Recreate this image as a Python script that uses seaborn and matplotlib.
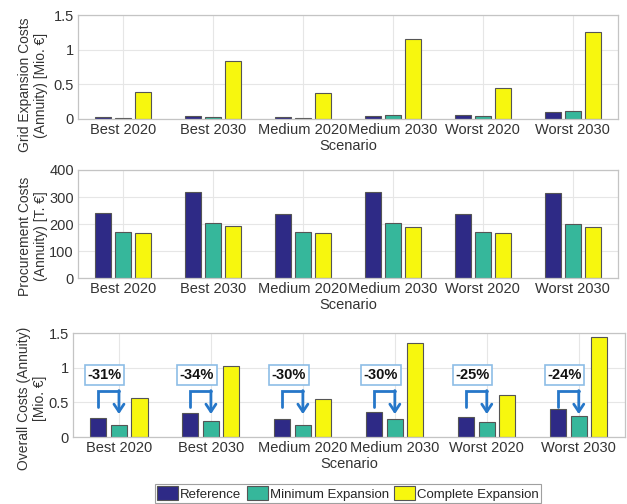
import numpy as np
import pandas as pd
import matplotlib
matplotlib.use("Agg")
import matplotlib.pyplot as plt
from matplotlib.ticker import FuncFormatter
import seaborn as sns

scenarios = ["Best 2020", "Best 2030", "Medium 2020", "Medium 2030", "Worst 2020", "Worst 2030"]
series = ["Reference", "Minimum Expansion", "Complete Expansion"]

grid_ref = [0.03, 0.04, 0.03, 0.05, 0.06, 0.10]
grid_min = [0.02, 0.03, 0.02, 0.06, 0.05, 0.11]
grid_full = [0.39, 0.83, 0.38, 1.16, 0.44, 1.25]

proc_ref = [240, 318, 237, 320, 238, 315]
proc_min = [170, 205, 170, 205, 172, 200]
proc_full = [165, 193, 168, 190, 168, 188]

over_ref = [0.27, 0.35, 0.26, 0.36, 0.29, 0.41]
over_min = [0.18, 0.23, 0.18, 0.26, 0.21, 0.31]
over_full = [0.56, 1.02, 0.55, 1.35, 0.61, 1.44]

savings = ["-31%", "-34%", "-30%", "-30%", "-25%", "-24%"]

colors = ["#2E2A86", "#36B79B", "#F7F70E"]


def long_df(a, b, c):
    rows = []
    for s, vals in zip(series, [a, b, c]):
        for sc, v in zip(scenarios, vals):
            rows.append({"Scenario": sc, "Series": s, "value": v})
    return pd.DataFrame(rows)


sns.set_theme(style="whitegrid")
plt.rcParams["font.family"] = ["Liberation Sans", "DejaVu Sans"]
plt.rcParams["axes.edgecolor"] = "#c4c4c4"
plt.rcParams["grid.color"] = "#e6e6e6"
plt.rcParams["grid.linewidth"] = 0.8

fig = plt.figure(figsize=(6.27, 5.04), dpi=100)
ax1 = fig.add_axes([0.1244, 0.7639, 0.861, 0.2063])
ax2 = fig.add_axes([0.1244, 0.4484, 0.861, 0.2143])
ax3 = fig.add_axes([0.1164, 0.1329, 0.880, 0.2063])

panels = [
    (ax1, long_df(grid_ref, grid_min, grid_full), "Grid Expansion Costs\n(Annuity) [Mio. \u20ac]", [0, 0.5, 1, 1.5], (-0.0556, 0.327)),
    (ax2, long_df(proc_ref, proc_min, proc_full), "Procurement Costs\n(Annuity) [T. \u20ac]", [0, 100, 200, 300, 400], (-0.0556, 0.389)),
    (ax3, long_df(over_ref, over_min, over_full), "Overall Costs (Annuity)\n[Mio. \u20ac]", [0, 0.5, 1, 1.5], (-0.047, 0.371)),
]

fs = 10.5
for ax, df, ylab, yt, lc in panels:
    sns.barplot(data=df, x="Scenario", y="value", hue="Series", palette=colors,
                saturation=1, width=0.67, gap=0.22, edgecolor="#555555", linewidth=0.8,
                ax=ax, legend=True)
    ax.set_xlim(-0.5, len(scenarios) - 0.5)
    ax.set_ylim(yt[0], yt[-1])
    ax.set_yticks(yt)
    ax.yaxis.set_major_formatter(FuncFormatter(lambda v, p: "%g" % v))
    ax.set_xlabel("Scenario", fontsize=fs, color="#333333", labelpad=1)
    ax.set_ylabel(ylab, fontsize=10, color="#333333", linespacing=1.15)
    ax.yaxis.set_label_coords(lc[0], lc[1])
    ax.tick_params(axis="both", labelsize=fs, colors="#333333", length=0, pad=3)
    ax.grid(True, axis="both")
    ax.set_axisbelow(True)
    for sp in ax.spines.values():
        sp.set_color("#c4c4c4")
        sp.set_linewidth(0.9)

handles, labels = ax1.get_legend_handles_labels()
for ax in (ax1, ax2, ax3):
    if ax.get_legend() is not None:
        ax.get_legend().remove()

leg = fig.legend(handles, labels, loc="center", bbox_to_anchor=(0.555, 0.021), ncol=3,
                 fontsize=9.5, frameon=True, fancybox=False, edgecolor="#888888",
                 handlelength=1.6, handleheight=1.3, handletextpad=0.15,
                 columnspacing=0.4, borderpad=0.15, borderaxespad=0)
leg.get_frame().set_linewidth(0.8)

# savings annotations on overall panel
off = 0.223
arrow_col = "#2677C9"
for i, txt in enumerate(savings):
    x_ref = i - off
    x_min = i
    ax3.plot([x_ref, x_ref, x_min], [0.44, 0.66, 0.66], color=arrow_col, lw=2.0,
             solid_joinstyle="miter", zorder=5)
    ax3.annotate("", xy=(x_min, 0.33), xytext=(x_min, 0.67),
                 arrowprops=dict(arrowstyle="->,head_length=0.45,head_width=0.3",
                                 color=arrow_col, lw=2.0, shrinkA=0, shrinkB=0),
                 zorder=5)
    ax3.text(i - 0.34, 0.895, txt, ha="left", va="center", fontsize=10.5,
             fontweight="bold", color="#111111", zorder=6,
             bbox=dict(boxstyle="square,pad=0.18", fc="white", ec="#8DBDE6", lw=1.2))

fig.savefig("out.png", dpi=100)
